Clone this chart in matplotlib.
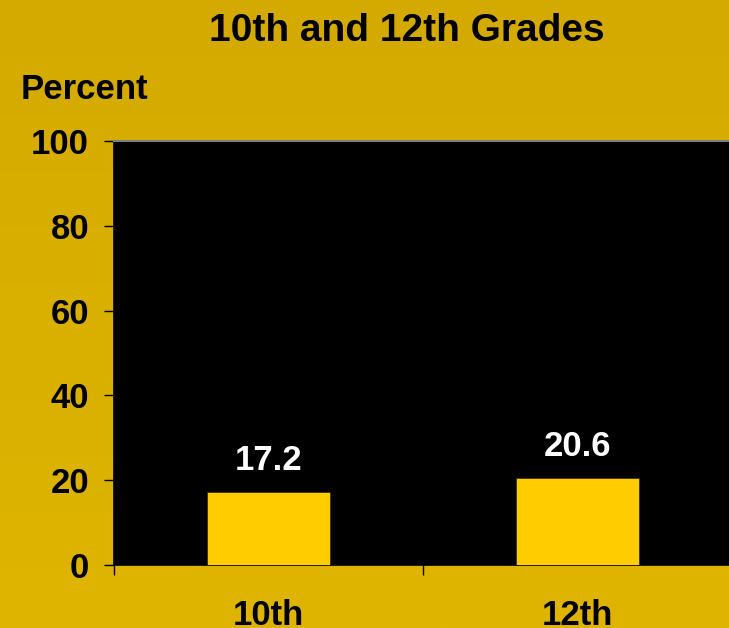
import matplotlib.pyplot as plt
import numpy as np

plt.rcParams['font.family'] = ['Liberation Sans', 'DejaVu Sans']
plt.rcParams['font.weight'] = 'bold'

# grades and percent values
grades = ['10th', '12th']
percent = [17.2, 20.6]
yticks = [0, 20, 40, 60, 80, 100]

fig = plt.figure(figsize=(7.29, 6.28), dpi=100)

# gold background, a touch lighter towards the bottom
bg = fig.add_axes([0, 0, 1, 1], zorder=-10)
grad = np.linspace(0, 1, 256).reshape(-1, 1)
top = np.array([212, 170, 0]) / 255
bot = np.array([223, 181, 0]) / 255
img = top + (bot - top) * grad[..., None]
bg.imshow(img, aspect='auto', extent=[0, 1, 0, 1])
bg.axis('off')

ax = fig.add_axes([114 / 729, 63 / 628, 618 / 729, 424 / 628])
ax.set_facecolor('black')

x = np.arange(len(grades))
ax.bar(x, percent, width=0.4, color='#FFCC00', edgecolor='#3a3000', linewidth=0.6, zorder=3)

for xi, v in zip(x, percent):
    ax.text(xi, v + 5.2, f'{v}', ha='center', va='baseline', color='white', fontsize=25, fontweight='bold')

ax.set_xlim(-0.5, 1.5)
ax.set_ylim(0, 100)
ax.set_yticks(yticks)
ax.set_yticklabels([str(t) for t in yticks], fontsize=25, fontweight='bold')
ax.tick_params(axis='y', length=7, width=1, pad=11, color='black')

# category labels sit in the middle, tick marks between them
ax.set_xticks([-0.5, 0.5, 1.5])
ax.set_xticklabels([])
ax.set_xticks(x, minor=True)
ax.set_xticklabels(grades, minor=True, fontsize=25, fontweight='bold')
ax.tick_params(axis='x', which='major', length=7, width=1, color='black')
ax.tick_params(axis='x', which='minor', length=0, pad=24.5)

for side in ['left', 'bottom']:
    ax.spines[side].set_color('black')
    ax.spines[side].set_linewidth(1.2)
ax.spines['top'].set_color('#808080')
ax.spines['top'].set_linewidth(1.5)
ax.spines['right'].set_visible(False)

fig.text(407 / 729, 1 - 41 / 628, '10th and 12th Grades', ha='center', va='baseline',
         fontsize=28, fontweight='bold')
fig.text(21 / 729, 1 - 99 / 628, 'Percent', ha='left', va='baseline',
         fontsize=25, fontweight='bold')

fig.savefig('out.png', dpi=100)
